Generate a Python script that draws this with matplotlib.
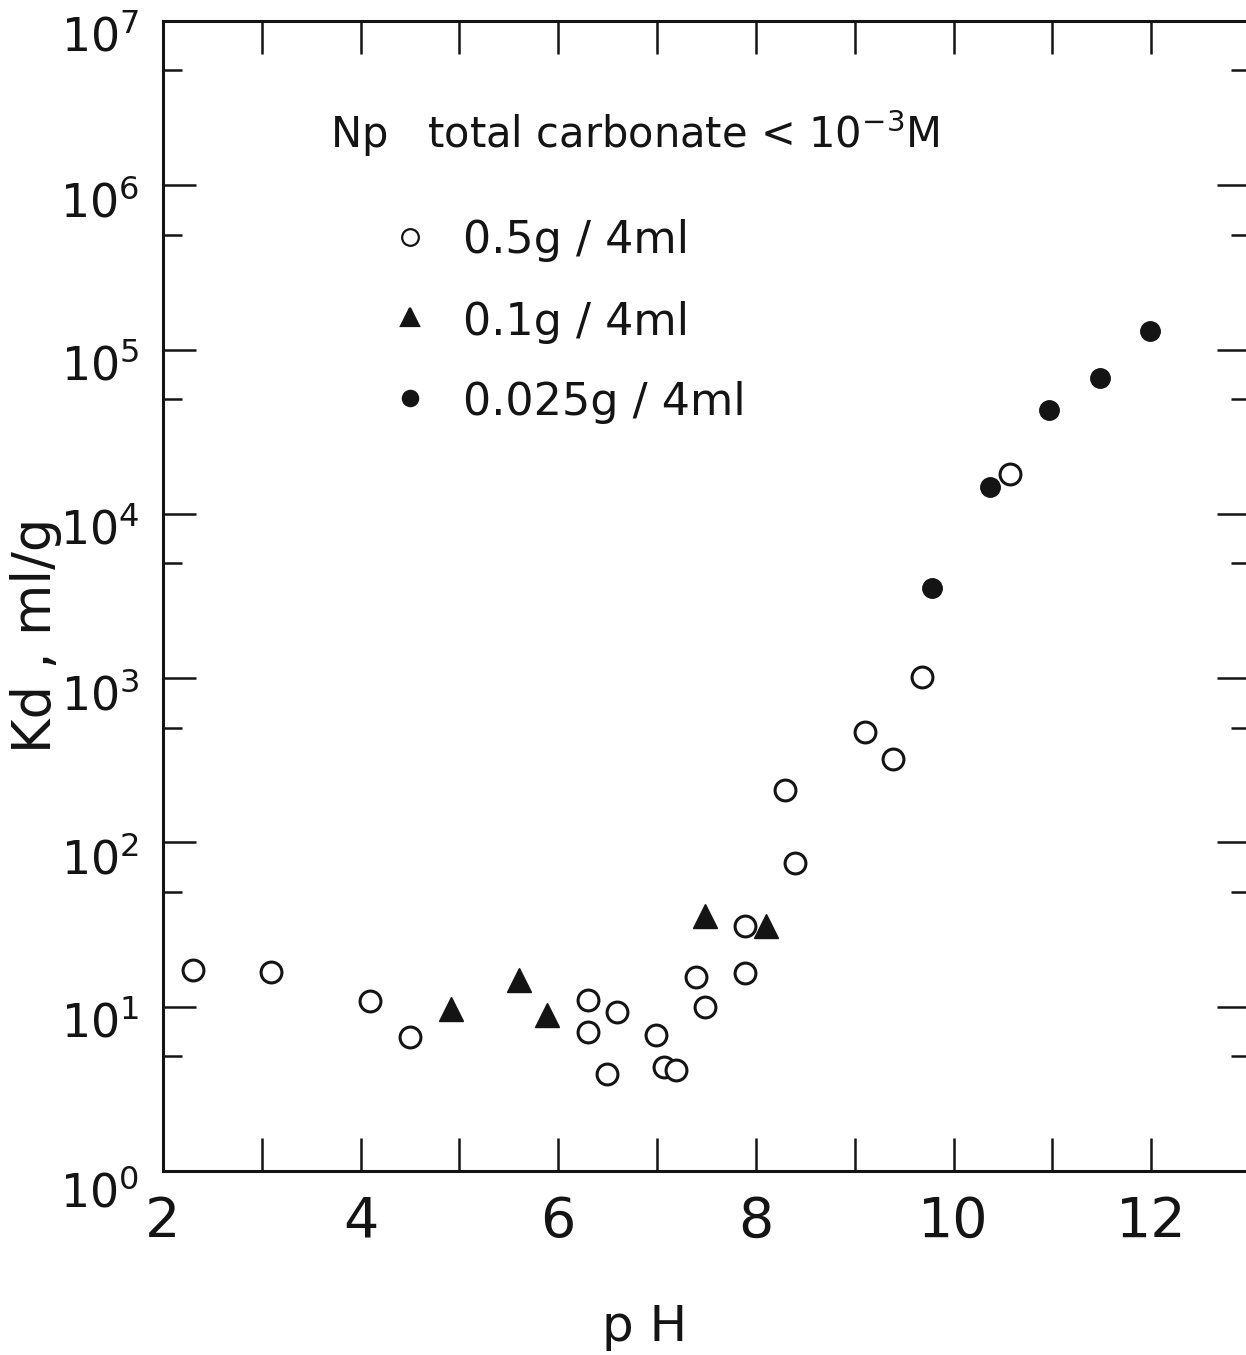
import matplotlib
matplotlib.use("Agg")
import matplotlib.pyplot as plt
import matplotlib.transforms as mtransforms

# Np sorption, total carbonate < 1e-3 M
# 0.5 g / 4 ml (open circles)
ph_05 = [2.30, 3.09, 4.10, 4.50, 6.30, 6.30, 6.49, 6.59, 6.99, 7.07, 7.19,
         7.39, 7.49, 7.89, 7.89, 8.29, 8.40, 9.10, 9.39, 9.68, 10.57]
kd_05 = [16.7, 16.3, 10.8, 6.5, 11.0, 7.05, 3.9, 9.3, 6.7, 4.3, 4.1,
         15.2, 9.9, 31, 16.1, 208, 75, 470, 322, 1016, 17500]

# 0.1 g / 4 ml (triangles)
ph_01 = [4.91, 5.60, 5.89, 7.49, 8.10]
kd_01 = [9.7, 14.5, 8.9, 35.5, 31]

# 0.025 g / 4 ml (filled circles)
ph_025 = [9.78, 10.37, 10.97, 11.48, 11.99]
kd_025 = [3550, 14600, 42800, 67200, 130000]

x_major = [2, 4, 6, 8, 10, 12]
x_minor = [3, 5, 7, 9, 11, 13]
y_major = [10.0 ** k for k in range(8)]
y_minor = [5 * 10.0 ** k for k in range(7)]
y_labels = [r"$\mathregular{10^{%d}}$" % k for k in range(8)]

INK = "#141414"

fig = plt.figure(figsize=(12.46, 13.55), dpi=100)
ax = fig.add_axes([0.1308, 0.1358, 0.8724, 0.8487])

ax.plot(ph_05, kd_05, "o", ms=15, mfc="white", mec=INK, mew=2.2, zorder=3, clip_on=False)
ax.plot(ph_01, kd_01, "^", ms=17, mfc=INK, mec=INK, mew=1.0, zorder=4, clip_on=False)
ax.plot(ph_025, kd_025, "o", ms=14, mfc=INK, mec=INK, mew=1.0, zorder=5, clip_on=False)

ax.set_yscale("log")
ax.set_xlim(2, 13)
ax.set_ylim(1, 1e7)

ax.set_xticks(x_major)
ax.set_xticks(x_minor, minor=True)
ax.set_xticklabels([str(v) for v in x_major])
ax.set_yticks(y_major)
ax.set_yticklabels(y_labels)
ax.set_yticks(y_minor, minor=True)
ax.yaxis.set_minor_formatter(plt.NullFormatter())

for side in ["left", "top", "bottom"]:
    ax.spines[side].set_linewidth(2.2)
    ax.spines[side].set_color(INK)
ax.spines["right"].set_visible(False)

ax.tick_params(axis="x", which="both", direction="in", top=True, length=24,
               width=1.8, color=INK, labelsize=40, pad=17, labelcolor=INK)
ax.tick_params(axis="y", which="major", direction="in", right=True, length=24,
               width=1.8, color=INK, labelsize=33, pad=17, labelcolor=INK)
ax.tick_params(axis="y", which="minor", direction="in", right=True, length=14,
               width=1.8, color=INK)

# shift y labels down a little, as in the original drawing
for i, t in enumerate(ax.yaxis.get_major_ticks()):
    dy = -18 if i == 0 else -13
    off = mtransforms.ScaledTranslation(0, dy / 100, fig.dpi_scale_trans)
    t.label1.set_transform(t.label1.get_transform() + off)

ax.set_xlabel("p H", fontsize=36, color=INK)
ax.xaxis.set_label_coords(0.443, -0.1148)
ax.set_ylabel("Kd , ml/g", fontsize=38, color=INK)
ax.yaxis.set_label_coords(-0.093, 0.466)

ax.text(0.1536, 0.890, r"Np   total carbonate < $\mathregular{10^{-3}}$M",
        transform=ax.transAxes, fontsize=30, color=INK, va="baseline")

# key
rows = [("o", "white", 12, "0.5g / 4ml", 0.812, 0.798),
        ("^", INK, 13, "0.1g / 4ml", 0.743, 0.727),
        ("o", INK, 11, "0.025g / 4ml", 0.672, 0.657)]
for mk, fc, ms, label, ym, yt in rows:
    ax.plot([0.2272], [ym], mk, ms=ms, mfc=fc, mec=INK, mew=1.6,
            transform=ax.transAxes, clip_on=False)
    ax.text(0.2760, yt, label, transform=ax.transAxes, fontsize=32,
            color=INK, va="baseline")

fig.savefig("out.png", dpi=100, facecolor="white")
